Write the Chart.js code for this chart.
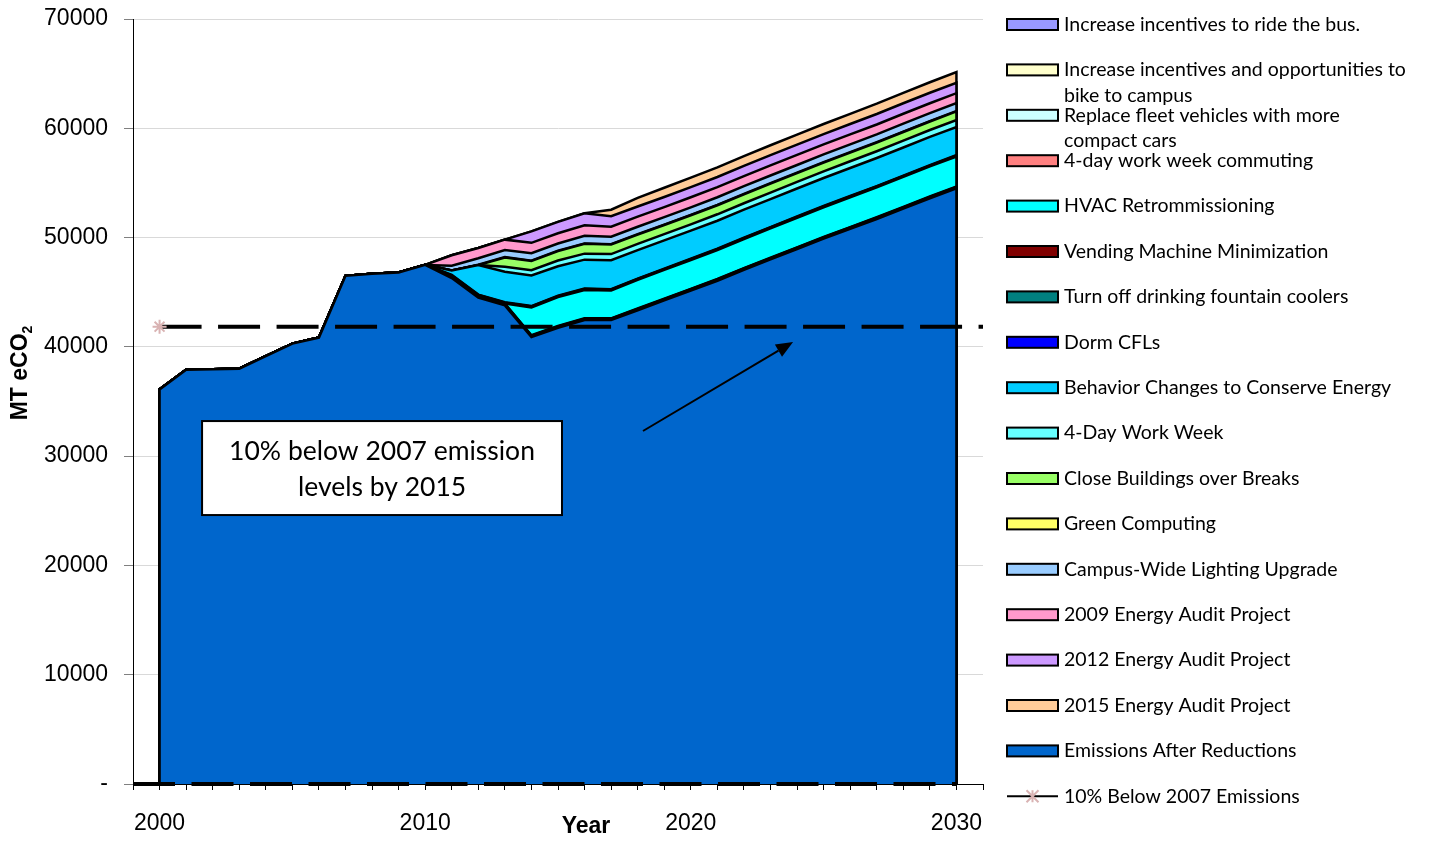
<!DOCTYPE html>
<html>
<head>
<meta charset="utf-8">
<title>Campus emissions and reduction projects</title>
<script src="https://cdn.jsdelivr.net/npm/chart.js@4.4.1/dist/chart.umd.min.js"></script>
<style>
  html, body { margin: 0; padding: 0; background: #ffffff; }
  #wrap { width: 1435px; height: 845px; position: relative; }
</style>
</head>
<body>
<div id="wrap"><canvas id="chart" width="1435" height="845"></canvas></div>
<script>
// ---- data (MT eCO2 per year) ----
const years = [2000, 2001, 2002, 2003, 2004, 2005, 2006, 2007, 2008, 2009, 2010,
               2011, 2012, 2013, 2014, 2015, 2016, 2017, 2018, 2019, 2020,
               2021, 2022, 2023, 2024, 2025, 2026, 2027, 2028, 2029, 2030];

const emissionsAfterReductions = [36100, 37900, 37950, 38000, 39150, 40300, 40850, 46500, 46700, 46800, 47500,
                                  46300, 44500, 43800, 40900, 41750, 42450, 42450, 43350, 44250, 45150,
                                  46050, 47050, 48000, 48950, 49900, 50800, 51700, 52650, 53600, 54500];

const busIncentives       = [0,0,0,0,0,0,0,0,0,0,0, 40,40,40,40,40,40,40,40,40,40, 40,40,40,40,40,40,40,40,40,40];
const bikeIncentives      = [0,0,0,0,0,0,0,0,0,0,0, 40,40,40,40,40,40,40,40,40,40, 40,40,40,40,40,40,40,40,40,40];
const fleetVehicles       = [0,0,0,0,0,0,0,0,0,0,0, 40,40,40,40,40,40,40,40,40,40, 40,40,40,40,40,40,40,40,40,40];
const commuting4Day       = [0,0,0,0,0,0,0,0,0,0,0, 40,40,40,40,40,40,40,40,40,40, 40,40,40,40,40,40,40,40,40,40];
const hvacRetro           = [0,0,0,0,0,0,0,0,0,0,0, 0,0,0,2550,2650,2600,2550,2620,2630,2640, 2650,2660,2680,2700,2710,2720,2730,2740,2750,2760];
const vendingMachines     = [0,0,0,0,0,0,0,0,0,0,0, 40,40,40,40,40,40,40,40,40,40, 40,40,40,40,40,40,40,40,40,40];
const fountainCoolers     = [0,0,0,0,0,0,0,0,0,0,0, 40,40,40,40,40,40,40,40,40,40, 40,40,40,40,40,40,40,40,40,40];
const dormCFLs            = [0,0,0,0,0,0,0,0,0,0,0, 40,40,40,40,40,40,40,40,40,40, 40,40,40,40,40,40,40,40,40,40];
const behaviorChanges     = [0,0,0,0,0,0,0,0,0,0,0, 400,2700,2800,2800,2700,2650,2650,2600,2580,2560, 2560,2560,2560,2560,2560,2570,2570,2570,2580,2580];
const workWeek4Day        = [0,0,0,0,0,0,0,0,0,0,0, 0,0,450,480,520,550,560,570,570,580, 590,590,600,600,610,610,620,630,630,640];
const closeBuildings      = [0,0,0,0,0,0,0,0,0,0,0, 0,0,850,850,860,900,880,850,840,830, 830,820,820,810,800,800,790,790,780,780];
const greenComputing      = [0,0,0,0,0,0,0,0,0,0,0, 0,30,30,30,30,30,30,30,30,30, 30,30,30,30,30,30,30,30,30,30];
const lightingUpgrade     = [0,0,0,0,0,0,0,0,0,0,0, 450,600,650,680,670,700,680,690,690,700, 700,710,710,710,720,720,720,730,730,730];
const audit2009           = [0,0,0,0,0,0,0,0,0,0,0, 950,930,950,950,930,960,920,920,920,920, 920,920,920,920,910,910,910,910,910,910];
const audit2012           = [0,0,0,0,0,0,0,0,0,0,0, 0,0,0,1050,1050,1100,950,930,920,920, 930,940,950,950,950,955,960,960,960,960];
const audit2015           = [0,0,0,0,0,0,0,0,0,0,0, 0,0,0,0,0,0,600,800,850,870, 880,890,900,910,920,930,940,950,960,970];

// target: 10% below the 2007 level
const targetYears = [2000, 2031];
const targetLevel = 0.9 * emissionsAfterReductions[years.indexOf(2007)];
const baselineYears = [1999, 2030];
const baselineValues = [0, 0];

const yTickValues = [0, 10000, 20000, 30000, 40000, 50000, 60000, 70000];
const xLabelYears = [2000, 2010, 2020, 2030];

// ---- stack, bottom to top ----
const stackLayers = [
  { label: 'Emissions After Reductions', values: emissionsAfterReductions, color: '#0066CC' },
  { label: 'Increase incentives to ride the bus.', values: busIncentives, color: '#9999FF' },
  { label: 'Increase incentives and opportunities to bike to campus', lines: ['Increase incentives and opportunities to', 'bike to campus'], values: bikeIncentives, color: '#FFFFCC' },
  { label: 'Replace fleet vehicles with more compact cars', lines: ['Replace fleet vehicles with more', 'compact cars'], values: fleetVehicles, color: '#CCFFFF' },
  { label: '4-day work week commuting', values: commuting4Day, color: '#FF8080' },
  { label: 'HVAC Retrommissioning', values: hvacRetro, color: '#00FFFF' },
  { label: 'Vending Machine Minimization', values: vendingMachines, color: '#800000' },
  { label: 'Turn off drinking fountain coolers', values: fountainCoolers, color: '#008080' },
  { label: 'Dorm CFLs', values: dormCFLs, color: '#0000FF' },
  { label: 'Behavior Changes to Conserve Energy', values: behaviorChanges, color: '#00CCFF' },
  { label: '4-Day Work Week', values: workWeek4Day, color: '#66FFFF' },
  { label: 'Close Buildings over Breaks', values: closeBuildings, color: '#99FF66' },
  { label: 'Green Computing', values: greenComputing, color: '#FFFF66' },
  { label: 'Campus-Wide Lighting Upgrade', values: lightingUpgrade, color: '#99CCFF' },
  { label: '2009 Energy Audit Project', values: audit2009, color: '#FF99CC' },
  { label: '2012 Energy Audit Project', values: audit2012, color: '#CC99FF' },
  { label: '2015 Energy Audit Project', values: audit2015, color: '#FFCC99' }
];

// legend lists the projects first, then the emissions and the target line
const legendOrder = [1,2,3,4,5,6,7,8,9,10,11,12,13,14,15,16,0];

const TEXT_FONT = 'Lato, "Open Sans", sans-serif';
const AXIS_FONT = '"Liberation Sans", Arial, sans-serif';

let running = years.map(() => 0);
const layerDatasets = stackLayers.map((layer, i) => {
  running = running.map((v, k) => v + layer.values[k]);
  const pts = years.map((yr, k) => ({ x: yr, y: running[k] }));
  // close the area with vertical edges at the first and last year
  pts.unshift({ x: years[0], y: 0 });
  pts.push({ x: years[years.length - 1], y: 0 });
  return {
    label: layer.label,
    data: pts,
    backgroundColor: layer.color,
    borderColor: '#000000',
    borderWidth: 2.5,
    borderJoinStyle: 'miter',
    pointRadius: 0,
    fill: i === 0 ? 'origin' : '-1',
    tension: 0,
    order: 0
  };
});

const targetDataset = {
  label: '10% Below 2007 Emissions',
  data: targetYears.map(x => ({ x, y: targetLevel })),
  borderColor: '#000000',
  borderWidth: 4,
  borderDash: [42, 16.5],
  borderCapStyle: 'butt',
  pointStyle: 'star',
  pointRadius: [7, 0],
  pointBorderColor: '#D9B3B3',
  pointBackgroundColor: '#D9B3B3',
  pointBorderWidth: 2,
  fill: false,
  clip: false,
  order: -1
};

const baselineDataset = {
  label: 'baseline',
  data: baselineYears.map((x, k) => ({ x, y: baselineValues[k] })),
  borderColor: '#000000',
  borderWidth: 4,
  borderDash: [42, 16.5],
  borderCapStyle: 'butt',
  pointRadius: 0,
  fill: false,
  clip: false,
  order: -1
};

// ---- text, annotation and legend drawn on the canvas ----
const decorations = {
  id: 'decorations',
  afterDatasetsDraw(chart) {
    const ctx = chart.ctx;
    const xs = chart.scales.x, ys = chart.scales.y;
    ctx.save();
    // callout box
    const bx0 = xs.getPixelForValue(2001.6), bx1 = xs.getPixelForValue(2015.15);
    const by0 = ys.getPixelForValue(33210), by1 = ys.getPixelForValue(24610);
    ctx.fillStyle = '#ffffff';
    ctx.fillRect(bx0, by0, bx1 - bx0, by1 - by0);
    ctx.strokeStyle = '#000000';
    ctx.lineWidth = 2;
    ctx.strokeRect(bx0, by0, bx1 - bx0, by1 - by0);
    ctx.fillStyle = '#000000';
    ctx.font = '26.5px ' + TEXT_FONT;
    ctx.textAlign = 'center';
    ctx.textBaseline = 'middle';
    const cx = (bx0 + bx1) / 2;
    ctx.fillText('10% below 2007 emission', cx, by0 + 30);
    ctx.fillText('levels by 2015', cx, by0 + 66);

    // arrow pointing at the target line
    const ax0 = xs.getPixelForValue(2018.2), ay0 = ys.getPixelForValue(32300);
    const ax1 = xs.getPixelForValue(2023.85), ay1 = ys.getPixelForValue(40450);
    const ang = Math.atan2(ay1 - ay0, ax1 - ax0);
    const headLen = 17, headW = 7;
    ctx.beginPath();
    ctx.moveTo(ax0, ay0);
    ctx.lineTo(ax1 - headLen * Math.cos(ang), ay1 - headLen * Math.sin(ang));
    ctx.lineWidth = 2;
    ctx.stroke();
    ctx.beginPath();
    ctx.moveTo(ax1, ay1);
    ctx.lineTo(ax1 - headLen * Math.cos(ang) + headW * Math.sin(ang), ay1 - headLen * Math.sin(ang) - headW * Math.cos(ang));
    ctx.lineTo(ax1 - headLen * Math.cos(ang) - headW * Math.sin(ang), ay1 - headLen * Math.sin(ang) + headW * Math.cos(ang));
    ctx.closePath();
    ctx.fill();
    ctx.restore();
  },
  afterDraw(chart) {
    const ctx = chart.ctx;
    const area = chart.chartArea;
    ctx.save();
    ctx.fillStyle = '#000000';

    // x axis title
    ctx.font = 'bold 23px ' + AXIS_FONT;
    ctx.textAlign = 'center';
    ctx.textBaseline = 'middle';
    ctx.fillText('Year', 586, 827);

    // y axis title with subscript
    ctx.save();
    ctx.translate(21, 373);
    ctx.rotate(-Math.PI / 2);
    ctx.textAlign = 'left';
    ctx.textBaseline = 'middle';
    ctx.font = 'bold 23px ' + AXIS_FONT;
    const mainTxt = 'MT eCO';
    const wMain = ctx.measureText(mainTxt).width;
    ctx.font = 'bold 14px ' + AXIS_FONT;
    const wSub = ctx.measureText('2').width;
    const start = -(wMain + wSub) / 2;
    ctx.font = 'bold 23px ' + AXIS_FONT;
    ctx.fillText(mainTxt, start, 0);
    ctx.font = 'bold 14px ' + AXIS_FONT;
    ctx.fillText('2', start + wMain, 7);
    ctx.restore();

    // legend
    const lx = area.right + 24, boxW = 51, boxH = 11, textX = area.right + 81;
    const rowTop = 24.5, rowStep = 45.4;
    ctx.font = '19.5px ' + TEXT_FONT;
    ctx.textAlign = 'left';
    ctx.textBaseline = 'middle';
    const drawRow = (row, draw, lines) => {
      const cy = rowTop + row * rowStep;
      draw(cy);
      ctx.fillStyle = '#000000';
      lines.forEach((t, j) => ctx.fillText(t, textX, cy + j * 25.5));
    };
    legendOrder.forEach((idx, row) => {
      const layer = stackLayers[idx];
      drawRow(row, cy => {
        ctx.fillStyle = layer.color;
        ctx.fillRect(lx, cy - boxH / 2, boxW, boxH);
        ctx.strokeStyle = '#000000';
        ctx.lineWidth = 2;
        ctx.strokeRect(lx, cy - boxH / 2, boxW, boxH);
      }, layer.lines || [layer.label]);
    });
    drawRow(legendOrder.length, cy => {
      ctx.strokeStyle = '#000000';
      ctx.lineWidth = 2;
      ctx.beginPath();
      ctx.moveTo(lx, cy);
      ctx.lineTo(lx + boxW, cy);
      ctx.stroke();
      const mx = lx + boxW / 2, r = 6;
      ctx.strokeStyle = '#D9B3B3';
      ctx.beginPath();
      ctx.moveTo(mx - r, cy - r); ctx.lineTo(mx + r, cy + r);
      ctx.moveTo(mx - r, cy + r); ctx.lineTo(mx + r, cy - r);
      ctx.moveTo(mx, cy - r); ctx.lineTo(mx, cy + r);
      ctx.stroke();
    }, [targetDataset.label]);
    ctx.restore();
  }
};

new Chart(document.getElementById('chart'), {
  type: 'line',
  data: { datasets: [...layerDatasets, targetDataset, baselineDataset] },
  options: {
    responsive: false,
    animation: false,
    devicePixelRatio: 1,
    layout: { padding: { top: 19, right: 452, left: 0, bottom: 0 } },
    plugins: { legend: { display: false }, tooltip: { enabled: false } },
    scales: {
      x: {
        type: 'linear',
        min: 1999,
        max: 2031,
        afterFit(scale) { scale.height = 61; scale.paddingLeft = 0; scale.paddingRight = 0; },
        afterBuildTicks(scale) { scale.ticks = years.concat([1999, 2031]).sort((a, b) => a - b).map(v => ({ value: v })); },
        ticks: {
          autoSkip: false,
          maxRotation: 0,
          padding: 20,
          color: '#000000',
          font: { family: AXIS_FONT, size: 23 },
          callback: v => (xLabelYears.includes(v) ? String(v) : '')
        },
        grid: { drawOnChartArea: false, drawTicks: true, tickLength: 6, tickColor: '#000000', tickWidth: 1 },
        border: { color: '#000000', width: 1 }
      },
      y: {
        min: 0,
        max: 70000,
        afterFit(scale) { scale.width = 133; scale.paddingTop = 0; scale.paddingBottom = 0; },
        afterBuildTicks(scale) { scale.ticks = yTickValues.map(v => ({ value: v })); },
        ticks: {
          padding: 16,
          color: '#000000',
          font: { family: AXIS_FONT, size: 23 },
          callback: v => (v === 0 ? '-' : String(v))
        },
        grid: { color: '#D9D9D9', tickColor: '#808080', tickLength: 9, lineWidth: 1 },
        border: { color: '#000000', width: 1 }
      }
    }
  },
  plugins: [decorations]
});
</script>
</body>
</html>
